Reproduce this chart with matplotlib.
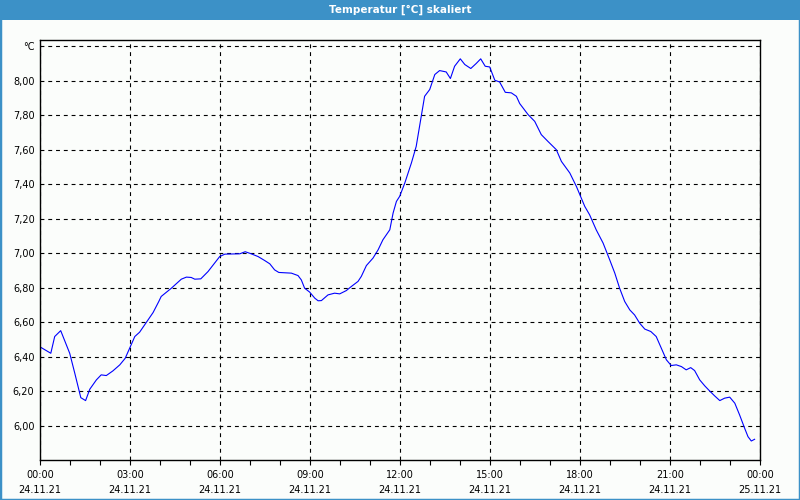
"""Temperatur [°C] skaliert – Tagesverlauf 24.11.21."""

import matplotlib

matplotlib.use("Agg")
import matplotlib.pyplot as plt
from matplotlib.patches import Rectangle

# time in hours since 24.11.21 00:00, temperature in °C
hours = [
    0.02, 0.36, 0.49, 0.69, 0.99, 1.16, 1.36, 1.52, 1.66, 1.88,
    2.04, 2.21, 2.43, 2.66, 2.84, 3.16, 3.32, 3.54, 3.77, 3.96,
    4.04, 4.38, 4.71, 4.88, 5.04, 5.16, 5.36, 5.60, 5.82, 5.99,
    6.16, 6.66, 6.84, 7.04, 7.27, 7.49, 7.66, 7.82, 7.96, 8.38,
    8.60, 8.71, 8.82, 8.99, 9.16, 9.27, 9.38, 9.60, 9.82, 9.99,
    10.21, 10.38, 10.60, 10.71, 10.88, 11.10, 11.27, 11.43, 11.66, 11.77,
    11.88, 11.99, 12.16, 12.38, 12.54, 12.71, 12.82, 12.99, 13.16, 13.32,
    13.54, 13.68, 13.82, 14.01, 14.16, 14.36, 14.54, 14.69, 14.84, 14.99,
    15.16, 15.32, 15.51, 15.71, 15.88, 15.99, 16.27, 16.49, 16.71, 16.93,
    17.21, 17.38, 17.66, 17.88, 18.02, 18.16, 18.32, 18.54, 18.77, 18.99,
    19.16, 19.32, 19.49, 19.66, 19.82, 19.99, 20.16, 20.36, 20.54, 20.71,
    20.88, 21.04, 21.21, 21.38, 21.54, 21.69, 21.82, 21.99, 22.16, 22.32,
    22.49, 22.66, 22.82, 22.99, 23.16, 23.32, 23.49, 23.60, 23.71, 23.82,
]
temps = [
    6.456, 6.421, 6.518, 6.552, 6.421, 6.305, 6.164, 6.147, 6.213, 6.267,
    6.296, 6.292, 6.319, 6.354, 6.392, 6.518, 6.543, 6.599, 6.657, 6.721,
    6.750, 6.798, 6.850, 6.862, 6.860, 6.850, 6.852, 6.894, 6.943, 6.981,
    6.995, 6.997, 7.009, 6.997, 6.981, 6.958, 6.939, 6.904, 6.889, 6.885,
    6.871, 6.846, 6.798, 6.775, 6.740, 6.725, 6.726, 6.759, 6.769, 6.765,
    6.784, 6.808, 6.837, 6.866, 6.929, 6.972, 7.020, 7.078, 7.136, 7.233,
    7.300, 7.330, 7.407, 7.523, 7.619, 7.793, 7.909, 7.948, 8.035, 8.058,
    8.050, 8.012, 8.083, 8.126, 8.093, 8.070, 8.099, 8.126, 8.083, 8.079,
    8.002, 7.992, 7.932, 7.929, 7.909, 7.867, 7.803, 7.764, 7.687, 7.648,
    7.600, 7.532, 7.465, 7.387, 7.329, 7.271, 7.223, 7.136, 7.059, 6.962,
    6.885, 6.798, 6.721, 6.672, 6.643, 6.595, 6.561, 6.547, 6.518, 6.450,
    6.383, 6.350, 6.354, 6.344, 6.325, 6.338, 6.321, 6.267, 6.232, 6.203,
    6.174, 6.147, 6.161, 6.167, 6.132, 6.064, 5.986, 5.938, 5.913, 5.923,
]

x_ticks = [0, 3, 6, 9, 12, 15, 18, 21, 24]
x_time_labels = ["00:00", "03:00", "06:00", "09:00", "12:00",
                 "15:00", "18:00", "21:00", "00:00"]
x_date_labels = ["24.11.21"] * 8 + ["25.11.21"]
y_ticks = [6.0, 6.2, 6.4, 6.6, 6.8, 7.0, 7.2, 7.4, 7.6, 7.8, 8.0, 8.2]

title = "Temperatur [°C] skaliert"
bar_blue = "#3c91c7"

fig = plt.figure(figsize=(8, 5), dpi=100, facecolor="#fbfdfb")

# blue title bar and window border
fig.patches.append(Rectangle((0, 0.96), 1, 0.04, transform=fig.transFigure,
                             facecolor=bar_blue, edgecolor="none", zorder=0))
fig.patches.append(Rectangle((0, 0), 1, 1, transform=fig.transFigure,
                             facecolor="none", edgecolor=bar_blue, lw=2.5, zorder=1))
fig.text(0.5, 0.98, title, ha="center", va="center", color="white",
         fontsize=7.5, fontweight="bold")

ax = fig.add_axes([0.05, 0.08, 0.90, 0.84], facecolor="#fbfdfb")
ax.plot(hours, temps, color="#0000ff", lw=0.8)

ax.set_xlim(0, 24)
ax.set_ylim(5.803, 8.235)

ax.set_xticks(x_ticks)
ax.set_xticklabels([f"{t}\n{d}" for t, d in zip(x_time_labels, x_date_labels)],
                   fontsize=7, linespacing=1.55)
ax.set_xticks(range(25), minor=True)
ax.tick_params(axis="x", which="both", direction="out", length=3.5, width=0.8, pad=4)

ax.set_yticks(y_ticks)
ax.set_yticklabels([f"{v:.2f}".replace(".", ",") for v in y_ticks[:-1]] + ["°C"],
                   fontsize=7)
ax.tick_params(axis="y", length=0, pad=4)

ax.grid(True, which="major", color="black", linestyle=(0, (3.5, 3.5)), lw=0.8)
for sp in ax.spines.values():
    sp.set_linewidth(1.0)

fig.savefig("out.png", dpi=100, facecolor=fig.get_facecolor())
